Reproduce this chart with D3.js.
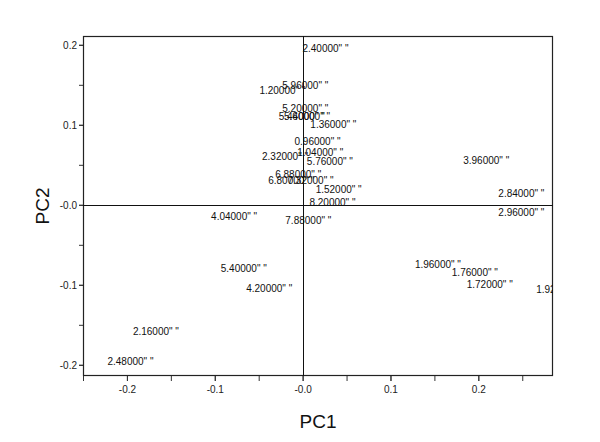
<!DOCTYPE html>
<html>
<head>
<meta charset="utf-8">
<script src="https://cdn.jsdelivr.net/npm/d3@7"></script>
<style>
  html, body { margin: 0; padding: 0; background: #fff; }
  svg { display: block; font-family: Arial, "Liberation Sans", sans-serif; }
</style>
</head>
<body>
<svg id="chart" width="600" height="442"></svg>
<script>
const labels = ["2.40000", "5.96000", "1.20000", "5.20000", "5.44000", "5.60000", "1.36000",
  "0.96000", "1.04000", "2.32000", "5.76000", "6.88000", "6.80000", "7.32000", "1.52000",
  "8.20000", "4.04000", "7.88000", "3.96000", "2.84000", "2.96000", "1.96000", "1.76000",
  "1.72000", "1.92000", "5.40000", "4.20000", "2.16000", "2.48000"];
const pc1 = [0.026, 0.003, -0.023, 0.003, -0.001, 0.005, 0.035,
  0.017, 0.020, -0.020, 0.031, -0.005, -0.013, 0.009, 0.041,
  0.034, -0.078, 0.0065, 0.209, 0.249, 0.249, 0.154, 0.196,
  0.213, 0.292, -0.067, -0.038, -0.167, -0.196];
const pc2 = [0.196, 0.149, 0.143, 0.121, 0.111, 0.111, 0.101,
  0.079, 0.066, 0.061, 0.054, 0.0375, 0.030, 0.030, 0.019,
  0.0025, -0.014, -0.020, 0.056, 0.014, -0.010, -0.074, -0.085,
  -0.099, -0.106, -0.080, -0.105, -0.158, -0.196];
const xTickLabels = ["-0.2", "-0.1", "-0.0", "0.1", "0.2"];
const xTickValues = [-0.2, -0.1, 0.0, 0.1, 0.2];
const xMinorTicks = [-0.25, -0.2, -0.15, -0.1, -0.05, 0.0, 0.05, 0.1, 0.15, 0.2, 0.25];
const yTickLabels = ["-0.2", "-0.1", "-0.0", "0.1", "0.2"];
const yTickValues = [-0.2, -0.1, 0.0, 0.1, 0.2];
const yMinorTicks = [-0.2, -0.15, -0.1, -0.05, 0.0, 0.05, 0.1, 0.15, 0.2];
const xTitle = "PC1";
const yTitle = "PC2";

const svg = d3.select("#chart");
const L = 83, R = 553, T = 36, B = 376;

const x = d3.scaleLinear().domain([-0.25, 0.285]).range([L, R]);
const y = d3.scaleLinear().domain([-0.214, 0.211]).range([B, T]);

// minor ticks (x)
svg.append("g").attr("transform", `translate(0,${B})`)
  .call(d3.axisBottom(x).tickValues(xMinorTicks).tickSize(5).tickFormat(""))
  .call(g => g.select(".domain").remove())
  .call(g => g.selectAll("line").attr("stroke", "#333"));
// major labels (x)
svg.append("g").attr("transform", `translate(0,${B})`)
  .call(d3.axisBottom(x).tickValues(xTickValues).tickSize(5).tickPadding(5)
    .tickFormat((d, i) => xTickLabels[i]))
  .call(g => g.select(".domain").remove())
  .call(g => g.selectAll("line").attr("stroke", "#333"))
  .call(g => g.selectAll("text").attr("font-size", 10).attr("fill", "#222")
    .attr("font-family", "Arial, 'Liberation Sans', sans-serif"));

// y ticks
svg.append("g").attr("transform", `translate(${L},0)`)
  .call(d3.axisLeft(y).tickValues(yMinorTicks).tickSize(4).tickFormat(""))
  .call(g => g.select(".domain").remove())
  .call(g => g.selectAll("line").attr("stroke", "#333"));
svg.append("g").attr("transform", `translate(${L},0)`)
  .call(d3.axisLeft(y).tickValues(yTickValues).tickSize(4).tickPadding(2)
    .tickFormat((d, i) => yTickLabels[i]))
  .call(g => g.select(".domain").remove())
  .call(g => g.selectAll("line").attr("stroke", "#333"))
  .call(g => g.selectAll("text").attr("font-size", 10).attr("fill", "#222")
    .attr("font-family", "Arial, 'Liberation Sans', sans-serif"));

// frame
svg.append("rect").attr("x", L + 0.5).attr("y", T + 0.5)
  .attr("width", R - L - 1).attr("height", B - T - 1)
  .attr("fill", "none").attr("stroke", "#222").attr("stroke-width", 1.2);

// zero reference lines
svg.append("line").attr("x1", Math.round(x(0)) + 0.5).attr("x2", Math.round(x(0)) + 0.5)
  .attr("y1", T).attr("y2", B).attr("stroke", "#111").attr("stroke-width", 1);
svg.append("line").attr("x1", L).attr("x2", R)
  .attr("y1", Math.round(y(0)) + 0.5).attr("y2", Math.round(y(0)) + 0.5)
  .attr("stroke", "#111").attr("stroke-width", 1);

// clip
svg.append("clipPath").attr("id", "plotclip")
  .append("rect").attr("x", L).attr("y", T).attr("width", R - L).attr("height", B - T);

const data = labels.map((l, i) => ({ label: l, x: pc1[i], y: pc2[i] }));
svg.append("g").attr("clip-path", "url(#plotclip)")
  .selectAll("text").data(data).join("text")
  .attr("x", d => x(d.x)).attr("y", d => y(d.y))
  .attr("dy", "0.35em")
  .attr("text-anchor", "middle")
  .attr("font-size", 10)
  .attr("fill", "#111")
  .text(d => d.label + '" "');

// titles
svg.append("text").attr("x", (L + R) / 2).attr("y", 428)
  .attr("text-anchor", "middle").attr("font-size", 19).attr("fill", "#111")
  .text(xTitle);
svg.append("text").attr("transform", `translate(49,${(T + B) / 2}) rotate(-90)`)
  .attr("text-anchor", "middle").attr("font-size", 19).attr("fill", "#111")
  .text(yTitle);
</script>
</body>
</html>
